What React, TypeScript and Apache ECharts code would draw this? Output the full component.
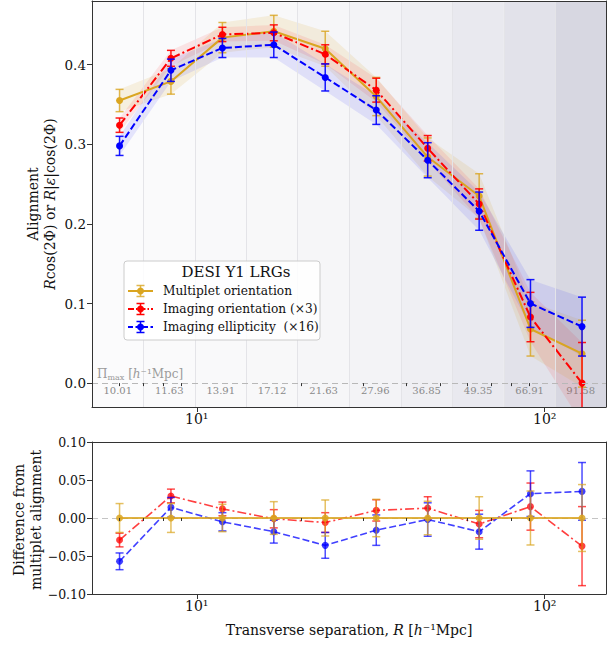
import React, { useEffect, useRef } from 'react';
import * as echarts from 'echarts';

// ---------------- data ----------------
const sepR = [6.0, 8.43, 11.85, 16.65, 23.4, 32.8, 46.1, 64.8, 91.0, 128.0];
const binEdges = [5, 7.03, 9.88, 13.9, 19.5, 27.5, 38.6, 54.3, 76.3, 107.3, 150];
const piMaxLabels = ['10.01', '11.63', '13.91', '17.12', '21.63', '27.96', '36.85', '49.35', '66.91', '91.58'];
const bandColors = ['#fbfbfc', '#fafafb', '#f9f9fa', '#f8f8f9', '#f6f6f8', '#f3f3f6', '#efeff3', '#e9e9ef', '#e2e2ea', '#d7d7e1'];

const multiplet = [0.355, 0.379, 0.434, 0.442, 0.420, 0.360, 0.284, 0.235, 0.068, 0.037];
const multipletErr = [0.014, 0.016, 0.019, 0.020, 0.022, 0.024, 0.024, 0.028, 0.034, 0.042];
const imgOrient = [0.324, 0.408, 0.438, 0.440, 0.413, 0.368, 0.295, 0.225, 0.083, 0.0];
const imgOrientErr = [0.009, 0.010, 0.009, 0.010, 0.012, 0.015, 0.016, 0.019, 0.031, 0.051];
const imgEllip = [0.298, 0.393, 0.421, 0.425, 0.384, 0.343, 0.280, 0.216, 0.100, 0.071];
const imgEllipErr = [0.012, 0.014, 0.012, 0.016, 0.017, 0.018, 0.022, 0.024, 0.030, 0.037];

const diffMultiplet = [0, 0, 0, 0, 0, 0, 0, 0, 0, 0];
const diffMultipletErr = [0.019, 0.019, 0.018, 0.0215, 0.0237, 0.0246, 0.022, 0.028, 0.0355, 0.044];
const diffOrient = [-0.029, 0.029, 0.012, -0.001, -0.006, 0.010, 0.013, -0.008, 0.015, -0.037];
const diffOrientErr = [0.009, 0.009, 0.009, 0.012, 0.013, 0.014, 0.015, 0.018, 0.031, 0.052];
const diffEllip = [-0.057, 0.014, -0.005, -0.018, -0.036, -0.016, -0.002, -0.018, 0.032, 0.035];
const diffEllipErr = [0.011, 0.013, 0.012, 0.015, 0.017, 0.020, 0.022, 0.023, 0.030, 0.038];

const topTicks = [0, 0.1, 0.2, 0.3, 0.4];
const majorX = [10, 100];
const minorX = [6, 7, 8, 9, 20, 30, 40, 50, 60, 70, 80, 90];

const legendEntries = [
  { label: 'Multiplet orientation', color: '#DAA520', ebColor: 'rgba(218,165,32,0.8)', dash: null as any },
  { label: 'Imaging orientation (×3)', color: '#ff0000', ebColor: '#ff0000', dash: [6, 2, 1.5, 2] },
  { label: 'Imaging ellipticity\u00a0 (×16)', color: '#0000ff', ebColor: '#0000ff', dash: [5, 2.5] },
];

// ---------------- style ----------------
const FONT = "'DejaVu Serif', serif";
const GOLD = '#DAA520';
const RED = '#ff0000';
const BLUE = '#0000ff';
const X_MIN = 5;
const X_MAX = 150;

function errSeries(xAxisIndex: number, yAxisIndex: number, ys: number[], es: number[], color: string, z: number) {
  return {
    type: 'custom',
    xAxisIndex,
    yAxisIndex,
    z,
    clip: true,
    silent: true,
    data: sepR.map((x, i) => [x, ys[i], es[i]]),
    encode: { x: 0, y: 1 },
    renderItem: (params: any, api: any) => {
      const x = api.value(0);
      const y = api.value(1);
      const e = api.value(2);
      const top = api.coord([x, y + e]);
      const bot = api.coord([x, y - e]);
      const w = 4;
      const st = { stroke: color, lineWidth: 1.5 };
      return {
        type: 'group',
        children: [
          { type: 'line', shape: { x1: top[0], y1: top[1], x2: bot[0], y2: bot[1] }, style: st },
          { type: 'line', shape: { x1: top[0] - w, y1: top[1], x2: top[0] + w, y2: top[1] }, style: st },
          { type: 'line', shape: { x1: bot[0] - w, y1: bot[1], x2: bot[0] + w, y2: bot[1] }, style: st },
        ],
      };
    },
  };
}

function bandSeries(ys: number[], es: number[], fill: string, z: number) {
  return {
    type: 'custom',
    xAxisIndex: 0,
    yAxisIndex: 0,
    z,
    clip: true,
    silent: true,
    data: [[sepR[0], ys[0]]],
    encode: { x: 0, y: 1 },
    renderItem: (params: any, api: any) => {
      if (params.dataIndex !== 0) return null;
      const upper = sepR.map((x, i) => api.coord([x, ys[i] + es[i]]));
      const lower = sepR.map((x, i) => api.coord([x, ys[i] - es[i]])).reverse();
      return { type: 'polygon', shape: { points: upper.concat(lower) }, style: { fill } };
    },
  };
}

function lineSeries(xAxisIndex: number, yAxisIndex: number, ys: number[], color: string, dash: any, width: number, z: number, opacity = 1) {
  return {
    type: 'line',
    xAxisIndex,
    yAxisIndex,
    z,
    silent: true,
    data: sepR.map((x, i) => [x, ys[i]]),
    symbol: 'circle',
    symbolSize: 7,
    itemStyle: { color, opacity },
    lineStyle: { color, width, type: dash, opacity },
  };
}

function xAxes(gridIndex: number) {
  const lmin = Math.log10(X_MIN);
  const lmax = Math.log10(X_MAX);
  return [
    { gridIndex, type: 'log', logBase: 10, min: X_MIN, max: X_MAX, show: false },
    {
      gridIndex, type: 'value', min: lmin, max: lmax, position: 'bottom', z: 10,
      axisLine: { show: true, onZero: false, lineStyle: { color: '#333', width: 1 } },
      axisTick: { show: true, customValues: majorX.map(Math.log10), length: 5, lineStyle: { color: '#333' } },
      axisLabel: {
        show: true, customValues: majorX.map(Math.log10), margin: 5,
        formatter: (v: number) => (Math.round(v) === 1 ? '10¹' : '10²'),
        fontFamily: FONT, fontSize: 14, color: '#111',
      },
      splitLine: { show: false },
    },
    {
      gridIndex, type: 'value', min: lmin, max: lmax, position: 'bottom', z: 10,
      axisLine: { show: false },
      axisTick: { show: true, customValues: minorX.map(Math.log10), length: 3, lineStyle: { color: '#333' } },
      axisLabel: { show: false },
      splitLine: { show: false },
    },
    {
      gridIndex, type: 'value', min: lmin, max: lmax, position: 'top', z: 10,
      axisLine: { show: true, onZero: false, lineStyle: { color: '#333', width: 1 } },
      axisTick: { show: false }, axisLabel: { show: false }, splitLine: { show: false },
    },
  ];
}

export default function App() {
  const ref = useRef<HTMLDivElement>(null);

  useEffect(() => {
    if (!ref.current) return;
    const chart = echarts.init(ref.current, null, { renderer: 'svg' });

    const bands = binEdges.slice(0, -1).map((e, i) => [
      {
        xAxis: e,
        itemStyle: { color: bandColors[i] },
        label: {
          show: true, position: 'insideBottom', distance: 12, formatter: piMaxLabels[i],
          fontFamily: FONT, fontSize: 10, color: '#8a8a8a',
        },
      },
      { xAxis: binEdges[i + 1] },
    ]);

    const LZ = 40;
    const legendChildren: any[] = [
      { type: 'rect', z: LZ, shape: { x: 124, y: 261, width: 196, height: 79, r: 3 }, style: { fill: 'rgba(255,255,255,0.85)', stroke: '#cccccc', lineWidth: 1 } },
      { type: 'text', z: LZ + 1, x: 236, y: 272, style: { text: 'DESI Y1 LRGs', fontFamily: FONT, fontSize: 15, fill: '#111', align: 'center', verticalAlign: 'middle' } },
    ];
    legendEntries.forEach((e, k) => {
      const y = 291 + k * 18;
      legendChildren.push(
        { type: 'line', z: LZ + 1, shape: { x1: 128, y1: y, x2: 153, y2: y }, style: e.dash ? { stroke: e.color, lineWidth: 2, lineDash: e.dash } : { stroke: e.color, lineWidth: 2 } },
        { type: 'line', z: LZ + 1, shape: { x1: 140.5, y1: y - 5.5, x2: 140.5, y2: y + 5.5 }, style: { stroke: e.ebColor, lineWidth: 1.5 } },
        { type: 'line', z: LZ + 1, shape: { x1: 136.5, y1: y - 5.5, x2: 144.5, y2: y - 5.5 }, style: { stroke: e.ebColor, lineWidth: 1.5 } },
        { type: 'line', z: LZ + 1, shape: { x1: 136.5, y1: y + 5.5, x2: 144.5, y2: y + 5.5 }, style: { stroke: e.ebColor, lineWidth: 1.5 } },
        { type: 'circle', z: LZ + 2, shape: { cx: 140.5, cy: y, r: 3.5 }, style: { fill: e.color } },
        { type: 'text', z: LZ + 1, x: 163, y, style: { text: e.label, fontFamily: FONT, fontSize: 12.2, fill: '#111', align: 'left', verticalAlign: 'middle' } },
      );
    });

    const option: any = {
      animation: false,
      backgroundColor: '#ffffff',
      grid: [
        { left: 92, top: 1, width: 514, height: 406 },
        { left: 92, top: 442, width: 514, height: 152 },
      ],
      xAxis: [...xAxes(0), ...xAxes(1)],
      yAxis: [
        {
          gridIndex: 0, type: 'value', min: -0.03, max: 0.48, z: 10,
          axisLine: { show: true, onZero: false, lineStyle: { color: '#333' } },
          axisTick: { show: true, customValues: topTicks, length: 5, lineStyle: { color: '#333' } },
          axisLabel: {
            customValues: topTicks, formatter: (v: number) => v.toFixed(1),
            fontFamily: FONT, fontSize: 13.5, color: '#111', margin: 6,
          },
          splitLine: { show: false },
        },
        {
          gridIndex: 0, type: 'value', min: -0.03, max: 0.48, position: 'right', z: 10,
          axisLine: { show: true, onZero: false, lineStyle: { color: '#333' } },
          axisTick: { show: false }, axisLabel: { show: false }, splitLine: { show: false },
        },
        {
          gridIndex: 1, type: 'value', min: -0.1, max: 0.1, interval: 0.05, z: 10,
          axisLine: { show: true, onZero: false, lineStyle: { color: '#333' } },
          axisTick: { show: true, length: 5, lineStyle: { color: '#333' } },
          axisLabel: {
            formatter: (v: number) => v.toFixed(2).replace('-', '−'),
            fontFamily: FONT, fontSize: 12.5, color: '#111', margin: 6,
          },
          splitLine: { show: false },
        },
        {
          gridIndex: 1, type: 'value', min: -0.1, max: 0.1, position: 'right', z: 10,
          axisLine: { show: true, onZero: false, lineStyle: { color: '#333' } },
          axisTick: { show: false }, axisLabel: { show: false }, splitLine: { show: false },
        },
      ],
      series: [
        {
          type: 'line', xAxisIndex: 0, yAxisIndex: 0, data: [], z: 1, silent: true,
          markArea: { silent: true, data: bands },
          markLine: {
            silent: true, symbol: ['none', 'none'], label: { show: false },
            data: [
              ...binEdges.slice(1, -1).map((e) => ({ xAxis: e, lineStyle: { color: '#e4e4e8', type: 'solid', width: 1 } })),
              { yAxis: 0, lineStyle: { color: '#b8b8b8', type: [6, 4], width: 1 } },
            ],
          },
        },
        bandSeries(multiplet, multipletErr, 'rgba(218,165,32,0.13)', 2),
        bandSeries(imgOrient, imgOrientErr, 'rgba(255,0,0,0.09)', 2),
        bandSeries(imgEllip, imgEllipErr, 'rgba(0,0,255,0.09)', 2),
        errSeries(0, 0, multiplet, multipletErr, 'rgba(218,165,32,0.8)', 3),
        lineSeries(0, 0, multiplet, GOLD, 'solid', 2, 3),
        errSeries(0, 0, imgOrient, imgOrientErr, 'rgba(255,0,0,0.9)', 4),
        lineSeries(0, 0, imgOrient, RED, [9, 3, 2, 3], 2, 4),
        errSeries(0, 0, imgEllip, imgEllipErr, 'rgba(0,0,255,0.9)', 5),
        lineSeries(0, 0, imgEllip, BLUE, [7, 3], 2, 5),

        {
          type: 'line', xAxisIndex: 4, yAxisIndex: 2, data: [], z: 1, silent: true,
          markLine: {
            silent: true, symbol: ['none', 'none'], label: { show: false },
            data: [{ yAxis: 0, lineStyle: { color: '#c4c4c4', type: [6, 4], width: 1 } }],
          },
        },
        errSeries(4, 2, diffOrient, diffOrientErr, 'rgba(255,0,0,0.7)', 3),
        lineSeries(4, 2, diffOrient, RED, [9, 3, 2, 3], 1.6, 3, 0.75),
        errSeries(4, 2, diffEllip, diffEllipErr, 'rgba(0,0,255,0.7)', 4),
        lineSeries(4, 2, diffEllip, BLUE, [7, 3], 1.6, 4, 0.75),
        errSeries(4, 2, diffMultiplet, diffMultipletErr, 'rgba(218,165,32,0.7)', 5),
        lineSeries(4, 2, diffMultiplet, GOLD, 'solid', 2, 5, 0.85),
      ],
      graphic: [
        {
          type: 'text', left: 97, top: 368, z: 20, silent: true,
          style: {
            text: '{p|Π}{s|max}{p| [}{i|h}{p|⁻¹Mpc]}',
            rich: {
              p: { fontFamily: FONT, fontSize: 12, fill: '#9a9a9a' },
              i: { fontFamily: FONT, fontSize: 12, fontStyle: 'italic', fill: '#9a9a9a' },
              s: { fontFamily: FONT, fontSize: 8, fill: '#9a9a9a', padding: [6, 0, 0, 0] },
            },
          },
        },
        {
          type: 'text', x: 33, y: 204, rotation: Math.PI / 2, z: 20, silent: true,
          style: { text: 'Alignment', fontFamily: FONT, fontSize: 14, fill: '#111', align: 'center', verticalAlign: 'middle' },
        },
        {
          type: 'text', x: 50, y: 204, rotation: Math.PI / 2, z: 20, silent: true,
          style: {
            text: '{i|R}{n|cos(2Φ) or }{i|R}{n||}{i|ε}{n||cos(2Φ)}',
            align: 'center', verticalAlign: 'middle',
            rich: {
              n: { fontFamily: FONT, fontSize: 14, fill: '#111' },
              i: { fontFamily: FONT, fontSize: 14, fontStyle: 'italic', fill: '#111' },
            },
          },
        },
        {
          type: 'text', x: 19, y: 520, rotation: Math.PI / 2, z: 20, silent: true,
          style: { text: 'Difference from', fontFamily: FONT, fontSize: 14, fill: '#111', align: 'center', verticalAlign: 'middle' },
        },
        {
          type: 'text', x: 36, y: 520, rotation: Math.PI / 2, z: 20, silent: true,
          style: { text: 'multiplet alignment', fontFamily: FONT, fontSize: 14, fill: '#111', align: 'center', verticalAlign: 'middle' },
        },
        {
          type: 'text', x: 349, y: 630, z: 20, silent: true,
          style: {
            text: '{n|Transverse separation, }{i|R}{n| [}{i|h}{n|⁻¹Mpc]}',
            align: 'center', verticalAlign: 'middle',
            rich: {
              n: { fontFamily: FONT, fontSize: 14, fill: '#111' },
              i: { fontFamily: FONT, fontSize: 14, fontStyle: 'italic', fill: '#111' },
            },
          },
        },
        ...legendChildren.map((c) => ({ ...c, silent: true })),
      ],
    };

    chart.setOption(option);
    return () => chart.dispose();
  }, []);

  return <div ref={ref} style={{ position: 'fixed', left: 0, top: 0, width: 611, height: 646, background: '#fff' }} />;
}
